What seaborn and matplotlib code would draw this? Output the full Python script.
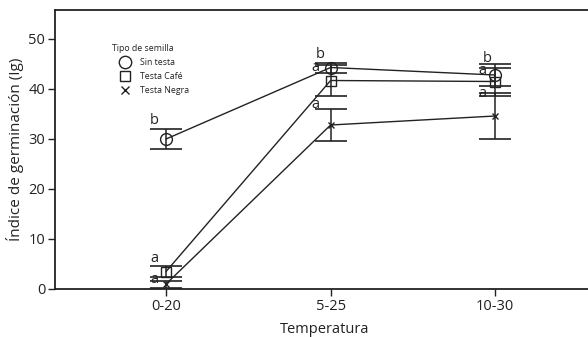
import numpy as np
import pandas as pd
import matplotlib
matplotlib.use("Agg")
import matplotlib.pyplot as plt
from matplotlib.lines import Line2D
import seaborn as sns

temps = ["0-20", "5-25", "10-30"]
series = ["Sin testa", "Testa Café", "Testa Negra"]
sin_testa = [30.0, 44.3, 42.8]
sin_testa_err = [2.0, 1.0, 2.2]
testa_cafe = [3.5, 41.7, 41.5]
testa_cafe_err = [1.1, 3.1, 2.8]
testa_negra = [1.0, 32.8, 34.6]
testa_negra_err = [0.7, 3.2, 4.6]
letters_sin = ["b", "b", "b"]
letters_cafe = ["a", "a", "a"]
letters_negra = ["a", "a", "a"]
markers = ["o", "s", "x"]

sns.set_theme(style="white")
plt.rcParams["font.family"] = ["Open Sans", "DejaVu Sans"]

rows = []
vals = [sin_testa, testa_cafe, testa_negra]
errs = [sin_testa_err, testa_cafe_err, testa_negra_err]
for s, v, e in zip(series, vals, errs):
    for i, t in enumerate(temps):
        rows.append({"tipo": s, "temp": t, "pos": i, "val": v[i], "err": e[i]})
df = pd.DataFrame(rows)

fig = plt.figure(figsize=(5.88, 3.37), dpi=100)
ax = fig.add_axes([55 / 588, 1 - 289 / 337, 1 - 55 / 588 + 0.01, (289 - 9.5) / 337])

ink = "#222222"
msizes = {"o": 8.5, "s": 7, "x": 5}
for s, m in zip(series, markers):
    d = df[df.tipo == s]
    ax.errorbar(d.pos, d.val, yerr=d.err, fmt="none", ecolor=ink,
                elinewidth=1.1, capsize=11.5, capthick=1.2, zorder=2)
    sns.lineplot(data=d, x="pos", y="val", ax=ax, color=ink, lw=1.0,
                 marker=m, ms=msizes[m], mfc="none", mec=ink, mew=1.0,
                 estimator=None, errorbar=None, legend=False, zorder=3)

# significance letters: placed beside each group's error bar
letters = [letters_sin, letters_cafe, letters_negra]
letter_dx = [[-0.07, -0.06, -0.05], [-0.07, -0.09, -0.08], [-0.07, -0.09, -0.08]]
letter_base = [[33.0, 46.2, 45.4], [5.3, 43.6, 43.0], [1.2, 36.2, 38.4]]
for lets, dxs, bases in zip(letters, letter_dx, letter_base):
    for i in range(3):
        ax.text(i + dxs[i], bases[i], lets[i], ha="center", va="baseline",
                fontsize=10.5, color=ink)

ax.set_xlim(-0.675, 2.6)
ax.set_ylim(0, 55.9)
ax.set_xticks(range(3))
ax.set_xticklabels(temps)
ax.set_yticks([0, 10, 20, 30, 40, 50])
ax.tick_params(axis="both", direction="out", length=5, width=1, color=ink,
               labelsize=10.5, labelcolor=ink, left=True, bottom=True, pad=2)
for sp in ["left", "top", "bottom"]:
    ax.spines[sp].set_color(ink)
    ax.spines[sp].set_linewidth(1.3)
ax.spines["right"].set_visible(False)
ax.set_xlabel("Temperatura", fontsize=10.5, color=ink, labelpad=6)
ax.set_ylabel("Índice de germinación (Ig)", fontsize=11, color=ink, labelpad=3)

handles = [Line2D([], [], color=ink, marker=m, ls="none", ms=msizes[m] * 1.05,
                  mfc="none", mew=1.0) for m in markers]
leg = ax.legend(handles, series, title="Tipo de semilla", loc="upper left",
                bbox_to_anchor=(0.095, 0.897), frameon=False, fontsize=6.3,
                title_fontsize=6.3, handlelength=3.0, handletextpad=0.2,
                labelspacing=0.55, alignment="left", borderpad=0.2)
for t in leg.get_texts():
    t.set_color(ink)
leg.get_title().set_color(ink)

fig.savefig("out.png", dpi=100)
